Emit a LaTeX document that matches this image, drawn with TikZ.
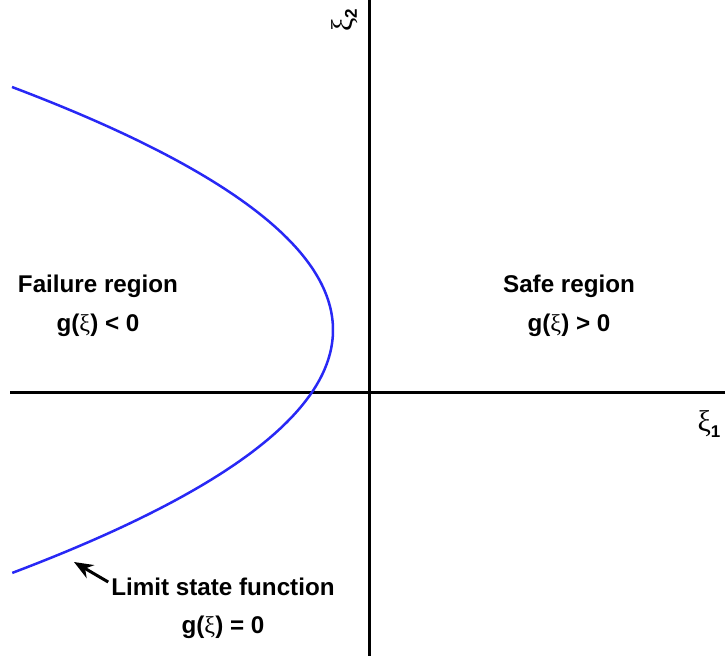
\documentclass[tikz,border=0pt]{standalone}
\usepackage{fontspec}
\setmainfont{Liberation Sans}
\newfontfamily\grk{Liberation Serif}
\usetikzlibrary{arrows.meta}
\definecolor{curveblue}{RGB}{40,40,245}
\newcommand{\gx}{{\grk\mdseries ξ}}
\tikzset{
  axis/.style={line width=3pt,black},
  lbl/.style={font=\fontsize{24.2}{28}\selectfont\bfseries, align=center, inner sep=0pt},
  axlbl/.style={font=\fontsize{30}{32}\selectfont, inner sep=0pt},
}
\begin{document}
\begin{tikzpicture}[x=1pt,y=-1pt]
\useasboundingbox (0,0) rectangle (725,661);
\coordinate (vtop) at (369,0);
\coordinate (vbot) at (369,656);
\coordinate (hl) at (10,392);
\coordinate (hr) at (725,392);
\draw[axis] (vtop) -- (vbot);
\draw[axis] (hl) -- (hr);
\draw[curveblue, line width=2.5pt] plot[domain=-2.43:2.43, samples=120, smooth] ({333-54.36*\x*\x},{330+100*\x});
\node[axlbl, rotate=90] (xi2) at (345,20) {\gx\raisebox{-4pt}{\fontsize{17}{17}\selectfont\bfseries 2}};
\node[axlbl] (xi1) at (709,424) {\gx\raisebox{-6pt}{\fontsize{17}{17}\selectfont\bfseries 1}};
\node[lbl] (fail) at (98,286) {Failure region};
\node[lbl] (failg) at (98,325) {g(\gx) < 0};
\node[lbl] (safe) at (569,286) {Safe region};
\node[lbl] (safeg) at (569,325) {g(\gx) > 0};
\node[lbl] (lsf) at (223,587) {Limit state function};
\node[lbl] (lsfg) at (223,627) {g(\gx) = 0};
\coordinate (tip) at (74,562);
\draw[line width=3pt, -{Stealth[length=19pt,width=15pt]}] (lsf.west) ++(-3,-5) -- (tip);
\end{tikzpicture}
\end{document}
